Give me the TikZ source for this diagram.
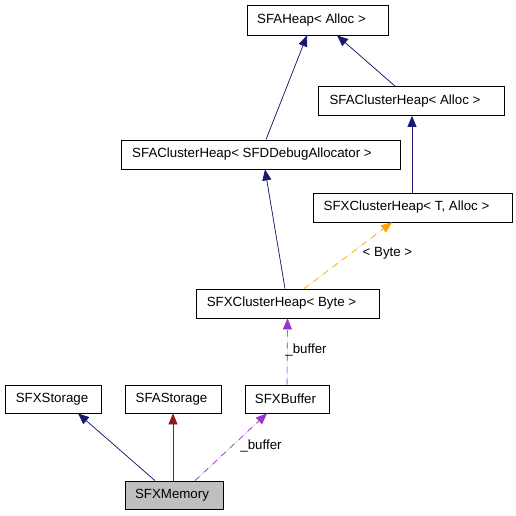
\documentclass[tikz,border=0pt]{standalone}
\usepackage{fontspec}
\setmainfont{Liberation Sans}
\usetikzlibrary{arrows.meta,calc}
\definecolor{navy}{RGB}{25,25,112}
\definecolor{fbrick}{RGB}{139,26,26}
\definecolor{orchid}{RGB}{154,50,205}
\definecolor{orng}{RGB}{255,165,0}
\definecolor{memfill}{RGB}{191,191,191}
\begin{document}
\begin{tikzpicture}[x=1pt,y=-1pt,
  every node/.style={font=\fontsize{13.3}{16}\selectfont},
  cls/.style={draw=black,line width=0.8pt,fill=white,inner sep=0pt,minimum height=29pt},
  tipstyle/.style={-{Triangle[length=11pt,width=9pt]}},
  inh/.style={tipstyle,draw=navy,fill=navy,line width=0.7pt},
  inhred/.style={tipstyle,draw=fbrick,fill=fbrick,line width=0.7pt},
  usedash/.style={tipstyle,draw=orchid,fill=orchid,line width=0.7pt,dash pattern=on 6pt off 6pt},
  tmpl/.style={tipstyle,draw=orng,fill=orng,line width=0.7pt,dash pattern=on 6pt off 6pt},
  lbl/.style={inner sep=0pt}]
\useasboundingbox (0,0) rectangle (516,515);
\node[cls,minimum width=141pt,minimum height=30pt] (heap) at (317.5,20) {SFAHeap< Alloc >\kern12pt};
\node[cls,minimum width=186pt] (chA) at (411,101) {SFAClusterHeap< Alloc >\kern12pt};
\node[cls,minimum width=279pt] (chD) at (260.5,154.5) {SFAClusterHeap< SFDDebugAllocator >\kern17pt};
\node[cls,minimum width=199pt] (xchT) at (412.5,207.5) {SFXClusterHeap< T, Alloc >\kern12pt};
\node[cls,minimum width=183pt] (xchB) at (287.5,303.5) {SFXClusterHeap< Byte >\kern12pt};
\node[cls,minimum width=96pt,minimum height=28pt] (xst) at (53,399) {SFXStorage\kern2pt};
\node[cls,minimum width=96pt,minimum height=28pt] (ast) at (173,399) {SFAStorage\kern3pt};
\node[cls,minimum width=84pt,minimum height=28pt] (buf) at (287,399) {SFXBuffer\kern3pt};
\node[cls,minimum width=98pt,minimum height=28pt,fill=memfill] (mem) at (174,495) {SFXMemory\kern4pt};

\draw[inh] ($(chD.north)+(5.5,0)$) -- ($(heap.south)+(-10.5,0)$);
\draw[inh] ($(chA.north)+(-16,0)$) -- ($(heap.south)+(19.5,0)$);
\draw[inh] ($(xchT.north)+(-0.5,0)$) -- ($(chA.south)+(1,0)$);
\draw[inh] ($(xchB.north)+(-2.5,0)$) -- ($(chD.south)+(4.5,0)$);
\draw[tmpl] ($(xchB.north)+(16.5,0)$) -- ($(xchT.south)+(-20.5,0)$);
\node[lbl] (lbyte) at (387.5,253) {< Byte >};
\draw[usedash] (buf.north) -- (xchB.south);
\node[lbl] (lbuf1) at (306,350) {\_buffer};
\draw[inh] ($(mem.north)+(-19,0)$) -- ($(xst.south)+(25,0)$);
\draw[inhred] ($(mem.north)+(-1,0)$) -- (ast.south);
\draw[usedash] ($(mem.north)+(21,0)$) -- ($(buf.south)+(-20,0)$);
\node[lbl] (lbuf2) at (261,446) {\_buffer};
\end{tikzpicture}
\end{document}
